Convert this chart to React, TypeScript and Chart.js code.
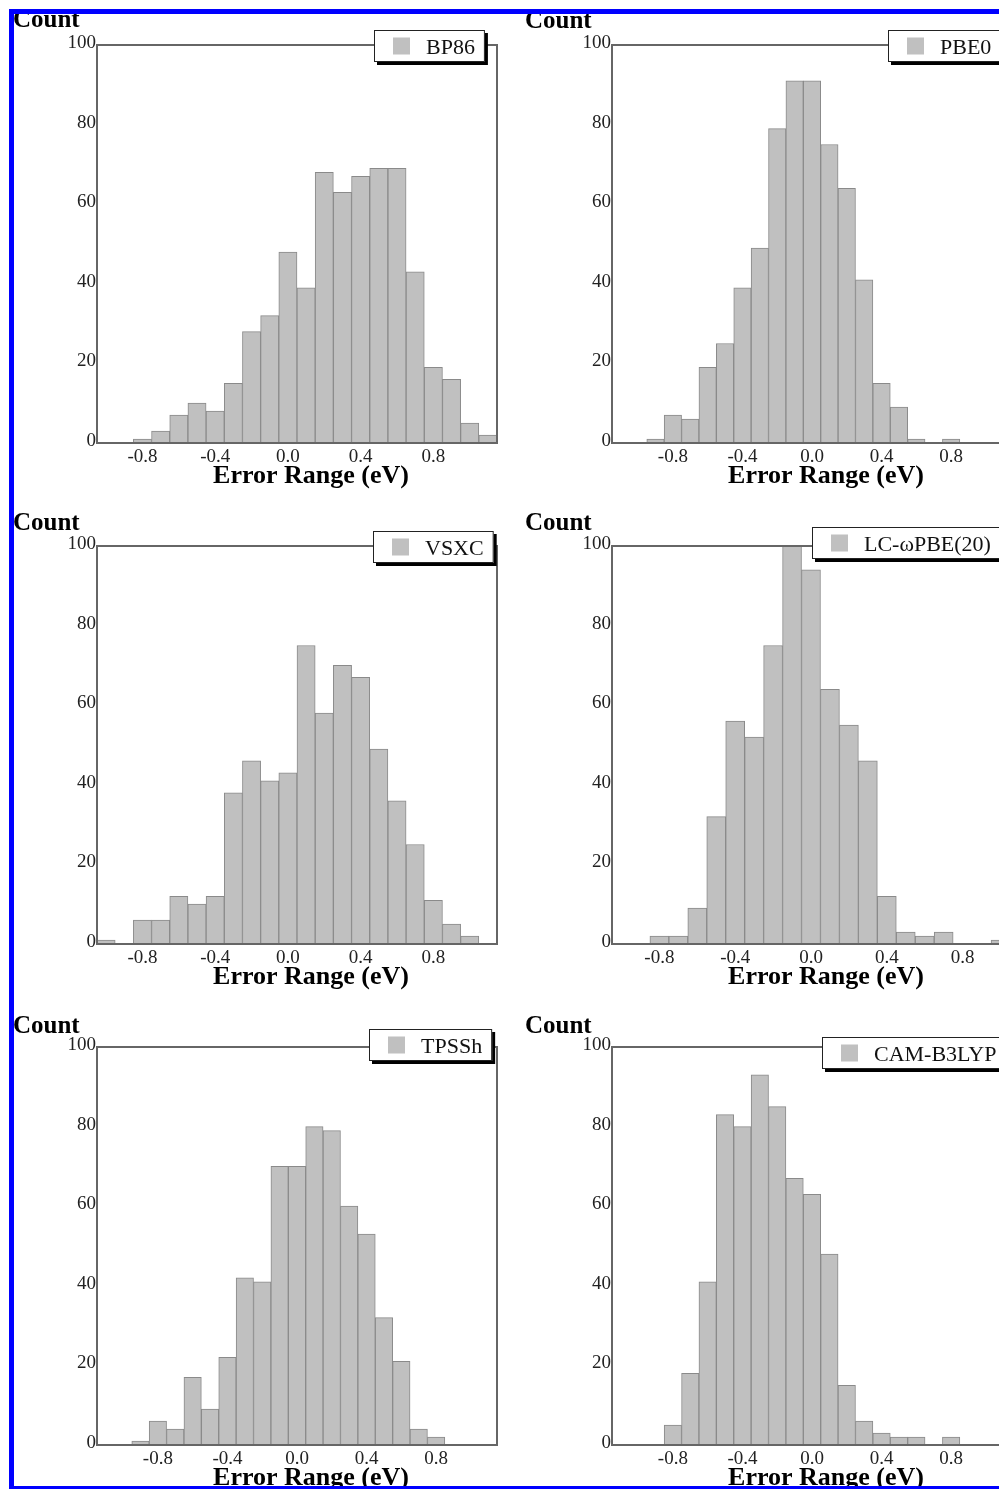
import { useEffect, useRef } from "react";
import Chart from "chart.js/auto";
import type { Chart as ChartInstance, Plugin } from "chart.js";

const SERIF = '"Liberation Serif", "Times New Roman", serif';
const BAR_FILL = "#c0c0c0";
const BAR_EDGE = "#8a8a8a";
const FRAME = "#666";
const TICK = "#222";

const yTitle = "Count";
const xTitle = "Error Range (eV)";
const yTicks = [0, 20, 40, 60, 80, 100];
const xTicks = [-0.8, -0.4, 0.0, 0.4, 0.8];

const bp86Bins = [-0.8, -0.7, -0.6, -0.5, -0.4, -0.3, -0.2, -0.1, 0.0, 0.1, 0.2, 0.3, 0.4, 0.5, 0.6, 0.7, 0.8, 0.9, 1.0, 1.1];
const bp86Counts = [1, 3, 7, 10, 8, 15, 28, 32, 48, 39, 68, 63, 67, 69, 69, 43, 19, 16, 5, 2];

const pbe0Bins = [-0.9, -0.8, -0.7, -0.6, -0.5, -0.4, -0.3, -0.2, -0.1, 0.0, 0.1, 0.2, 0.3, 0.4, 0.5, 0.6, 0.7, 0.8];
const pbe0Counts = [1, 7, 6, 19, 25, 39, 49, 79, 91, 91, 75, 64, 41, 15, 9, 1, 0, 1];

const vsxcBins = [-1.0, -0.9, -0.8, -0.7, -0.6, -0.5, -0.4, -0.3, -0.2, -0.1, 0.0, 0.1, 0.2, 0.3, 0.4, 0.5, 0.6, 0.7, 0.8, 0.9, 1.0];
const vsxcCounts = [1, 0, 6, 6, 12, 10, 12, 38, 46, 41, 43, 75, 58, 70, 67, 49, 36, 25, 11, 5, 2];

const lcBins = [-0.8, -0.7, -0.6, -0.5, -0.4, -0.3, -0.2, -0.1, 0.0, 0.1, 0.2, 0.3, 0.4, 0.5, 0.6, 0.7, 0.8, 0.9, 1.0];
const lcCounts = [2, 2, 9, 32, 56, 52, 75, 100, 94, 64, 55, 46, 12, 3, 2, 3, 0, 0, 1];

const tpsshBins = [-0.9, -0.8, -0.7, -0.6, -0.5, -0.4, -0.3, -0.2, -0.1, 0.0, 0.1, 0.2, 0.3, 0.4, 0.5, 0.6, 0.7, 0.8];
const tpsshCounts = [1, 6, 4, 17, 9, 22, 42, 41, 70, 70, 80, 79, 60, 53, 32, 21, 4, 2];

const camBins = [-0.8, -0.7, -0.6, -0.5, -0.4, -0.3, -0.2, -0.1, 0.0, 0.1, 0.2, 0.3, 0.4, 0.5, 0.6, 0.7, 0.8];
const camCounts = [5, 18, 41, 83, 80, 93, 85, 67, 63, 48, 15, 6, 3, 2, 2, 0, 2];

interface PanelLayout {
  left: number;
  top: number;
  width: number;
  height: number;
  // plot area inside the canvas
  area: { l: number; t: number; r: number; b: number };
  xMin: number;
  xMax: number;
  legendAt: [number, number];
  countAt: [number, number];
  titleX: number;
}

interface HistogramProps {
  name: string;
  bins: number[];
  counts: number[];
  layout: PanelLayout;
}

function decorPlugin(layout: PanelLayout): Plugin<"bar"> {
  return {
    id: "panel-decor",
    afterDatasetsDraw(chart: ChartInstance<"bar">) {
      const { ctx, chartArea: a } = chart;
      ctx.save();

      // plot frame
      ctx.strokeStyle = FRAME;
      ctx.lineWidth = 2;
      ctx.strokeRect(a.left, a.top, a.right - a.left, a.bottom - a.top);

      // axis titles
      ctx.fillStyle = "#000";
      ctx.textBaseline = "alphabetic";
      ctx.textAlign = "left";
      ctx.font = `bold 25px ${SERIF}`;
      ctx.fillText(yTitle, layout.countAt[0], layout.countAt[1]);
      ctx.textAlign = "center";
      ctx.font = `bold 26px ${SERIF}`;
      ctx.fillText(xTitle, layout.titleX, a.bottom + 40);

      // legend box with drop shadow
      const ds = chart.data.datasets[0];
      const label = String(ds.label ?? "");
      ctx.font = `22px ${SERIF}`;
      const w = 62 + ctx.measureText(label).width;
      const h = 32;
      const [lx, ly] = layout.legendAt;
      ctx.fillStyle = "#000";
      ctx.fillRect(lx + 3, ly + 3, w, h);
      ctx.fillStyle = "#fff";
      ctx.fillRect(lx, ly, w, h);
      ctx.strokeStyle = "#222";
      ctx.lineWidth = 1;
      ctx.strokeRect(lx + 0.5, ly + 0.5, w - 1, h - 1);
      ctx.fillStyle = String(ds.backgroundColor);
      ctx.fillRect(lx + 19, ly + 7.5, 17, 17);
      ctx.fillStyle = "#111";
      ctx.textAlign = "left";
      ctx.fillText(label, lx + 52, ly + 23.5);

      ctx.restore();
    },
  };
}

function Histogram({ name, bins, counts, layout }: HistogramProps) {
  const canvasRef = useRef<HTMLCanvasElement | null>(null);

  useEffect(() => {
    const canvas = canvasRef.current;
    if (!canvas) return;
    const { width, height, area, xMin, xMax } = layout;
    const chart = new Chart(canvas, {
      type: "bar",
      data: {
        datasets: [
          {
            label: name,
            data: bins.map((x, i) => ({ x, y: counts[i] })),
            backgroundColor: BAR_FILL,
            borderColor: BAR_EDGE,
            borderWidth: 1,
            barPercentage: 1,
            categoryPercentage: 1,
          },
        ],
      },
      plugins: [decorPlugin(layout)],
      options: {
        animation: false,
        responsive: false,
        maintainAspectRatio: false,
        events: [],
        layout: { padding: { left: 0, top: area.t, right: width - area.r, bottom: 0 } },
        plugins: {
          legend: { display: false },
          tooltip: { enabled: false },
        },
        scales: {
          x: {
            type: "linear",
            min: xMin,
            max: xMax,
            offset: false,
            grid: { display: false, drawTicks: false },
            border: { display: false },
            afterBuildTicks: (scale) => {
              scale.ticks = xTicks.map((value) => ({ value }));
            },
            afterFit: (scale) => {
              scale.height = height - area.b;
            },
            ticks: {
              autoSkip: false,
              maxRotation: 0,
              padding: 3,
              color: TICK,
              font: { family: SERIF, size: 19 },
              callback: (value) => Number(value).toFixed(1),
            },
          },
          y: {
            min: 0,
            max: 100,
            grid: { display: false, drawTicks: false },
            border: { display: false },
            afterBuildTicks: (scale) => {
              scale.ticks = yTicks.map((value) => ({ value }));
            },
            afterFit: (scale) => {
              scale.width = area.l;
            },
            ticks: {
              autoSkip: false,
              padding: 1,
              labelOffset: -2,
              color: TICK,
              font: { family: SERIF, size: 19 },
            },
          },
        },
      },
    });
    return () => chart.destroy();
  }, [name, bins, counts, layout]);

  return (
    <canvas
      ref={canvasRef}
      width={layout.width}
      height={layout.height}
      style={{
        position: "absolute",
        left: layout.left,
        top: layout.top,
        width: layout.width,
        height: layout.height,
      }}
    />
  );
}

const bp86Layout: PanelLayout = {
  left: 0, top: 0, width: 500, height: 500,
  area: { l: 97, t: 45, r: 497, b: 443 },
  xMin: -1.05, xMax: 1.15,
  legendAt: [374, 30], countAt: [13, 27], titleX: 311,
};
const pbe0Layout: PanelLayout = {
  left: 500, top: 0, width: 520, height: 500,
  area: { l: 112, t: 45, r: 512, b: 443 },
  xMin: -1.15, xMax: 1.15,
  legendAt: [388, 30], countAt: [25, 28], titleX: 326,
};
const vsxcLayout: PanelLayout = {
  left: 0, top: 500, width: 500, height: 500,
  area: { l: 97, t: 46, r: 497, b: 444 },
  xMin: -1.05, xMax: 1.15,
  legendAt: [373, 31], countAt: [13, 30], titleX: 311,
};
const lcLayout: PanelLayout = {
  left: 500, top: 500, width: 520, height: 500,
  area: { l: 112, t: 46, r: 510, b: 444 },
  xMin: -1.05, xMax: 1.05,
  legendAt: [312, 27], countAt: [25, 30], titleX: 326,
};
const tpsshLayout: PanelLayout = {
  left: 0, top: 1000, width: 500, height: 489,
  area: { l: 97, t: 47, r: 497, b: 445 },
  xMin: -1.15, xMax: 1.15,
  legendAt: [369, 29], countAt: [13, 33], titleX: 311,
};
const camLayout: PanelLayout = {
  left: 500, top: 1000, width: 520, height: 489,
  area: { l: 112, t: 47, r: 512, b: 445 },
  xMin: -1.15, xMax: 1.15,
  legendAt: [322, 37], countAt: [25, 33], titleX: 326,
};

const BLUE = "#0000ff";

export default function App() {
  return (
    <div
      style={{
        position: "absolute",
        left: 0,
        top: 0,
        width: 999,
        height: 1489,
        overflow: "hidden",
        background: "#fff",
      }}
    >
      <Histogram name="BP86" bins={bp86Bins} counts={bp86Counts} layout={bp86Layout} />
      <Histogram name="PBE0" bins={pbe0Bins} counts={pbe0Counts} layout={pbe0Layout} />
      <Histogram name="VSXC" bins={vsxcBins} counts={vsxcCounts} layout={vsxcLayout} />
      <Histogram name="LC-ωPBE(20)" bins={lcBins} counts={lcCounts} layout={lcLayout} />
      <Histogram name="TPSSh" bins={tpsshBins} counts={tpsshCounts} layout={tpsshLayout} />
      <Histogram name="CAM-B3LYP" bins={camBins} counts={camCounts} layout={camLayout} />
      <div style={{ position: "absolute", left: 9, top: 9, width: 990, height: 5, background: BLUE }} />
      <div style={{ position: "absolute", left: 9, top: 9, width: 5, height: 1480, background: BLUE }} />
      <div style={{ position: "absolute", left: 9, top: 1486, width: 990, height: 3, background: BLUE }} />
    </div>
  );
}
